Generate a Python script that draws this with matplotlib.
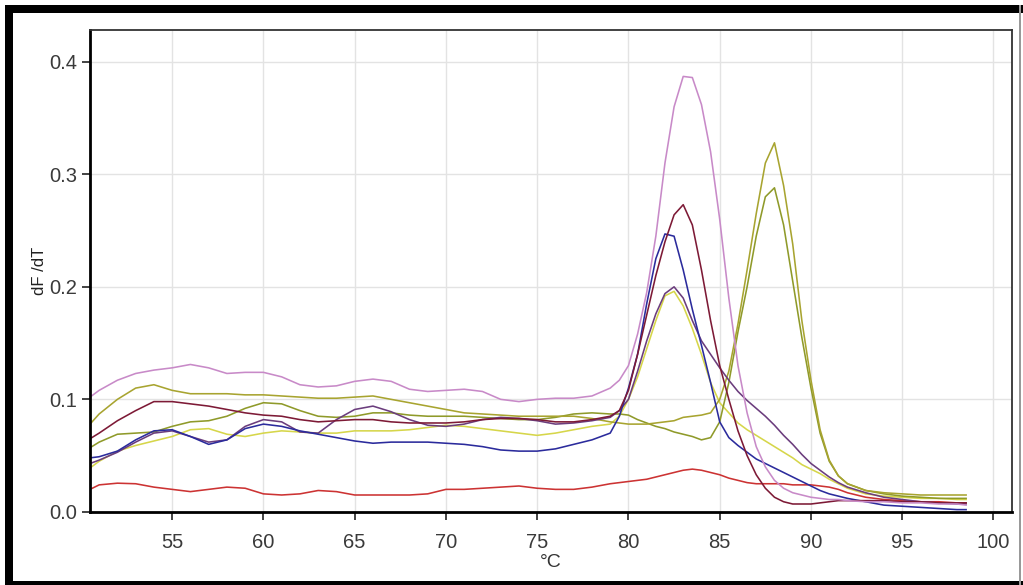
import matplotlib
matplotlib.use("Agg")
import matplotlib.pyplot as plt
from matplotlib.patches import Rectangle

plt.rcParams['font.family'] = ['Liberation Sans', 'DejaVu Sans']

# temperature grid (deg C)
temps = [50.5, 51, 52, 53, 54, 55, 56, 57, 58, 59, 60, 61, 62, 63, 64, 65, 66, 67, 68, 69,
         70, 71, 72, 73, 74, 75, 76, 77, 78, 79,
         79.5, 80, 80.5, 81, 81.5, 82, 82.5, 83, 83.5, 84, 84.5, 85, 85.5, 86, 86.5, 87,
         87.5, 88, 88.5, 89, 89.5, 90, 90.5, 91, 91.5, 92,
         93, 94, 95, 96, 97, 98, 98.5]

pink = [0.102, 0.108, 0.117, 0.123, 0.126, 0.128, 0.131, 0.128, 0.123, 0.124, 0.124, 0.120, 0.113, 0.111, 0.112,
        0.116, 0.118, 0.116, 0.109, 0.107, 0.108, 0.109, 0.107, 0.100, 0.098, 0.100, 0.101, 0.101, 0.103, 0.110,
        0.117, 0.130, 0.158, 0.195, 0.245, 0.310, 0.360, 0.387, 0.386, 0.362, 0.320, 0.260, 0.190, 0.130, 0.088,
        0.058, 0.040, 0.028, 0.021, 0.017, 0.015, 0.013, 0.012, 0.011, 0.011, 0.010,
        0.009, 0.009, 0.008, 0.008, 0.007, 0.007, 0.006]

maroon = [0.065, 0.070, 0.081, 0.090, 0.098, 0.098, 0.096, 0.094, 0.091, 0.088, 0.086, 0.085, 0.082, 0.080, 0.081,
          0.082, 0.082, 0.080, 0.079, 0.079, 0.079, 0.080, 0.082, 0.083, 0.083, 0.082, 0.080, 0.080, 0.082, 0.085,
          0.090, 0.108, 0.140, 0.175, 0.210, 0.240, 0.264, 0.273, 0.255, 0.215, 0.170, 0.130, 0.100, 0.072, 0.050,
          0.033, 0.021, 0.013, 0.009, 0.007, 0.007, 0.007, 0.008, 0.009, 0.010, 0.010,
          0.010, 0.010, 0.009, 0.009, 0.008, 0.008, 0.008]

blue = [0.048, 0.049, 0.054, 0.064, 0.072, 0.073, 0.067, 0.060, 0.064, 0.074, 0.078, 0.076, 0.072, 0.069, 0.066,
        0.063, 0.061, 0.062, 0.062, 0.062, 0.061, 0.060, 0.058, 0.055, 0.054, 0.054, 0.056, 0.060, 0.064, 0.070,
        0.085, 0.110, 0.140, 0.185, 0.225, 0.247, 0.245, 0.215, 0.180, 0.148, 0.115, 0.080, 0.066, 0.059, 0.053,
        0.047, 0.043, 0.039, 0.035, 0.031, 0.027, 0.023, 0.019, 0.016, 0.014, 0.012,
        0.009, 0.006, 0.005, 0.004, 0.003, 0.002, 0.002]

purple = [0.043, 0.046, 0.053, 0.062, 0.070, 0.072, 0.067, 0.062, 0.064, 0.076, 0.082, 0.080, 0.071, 0.070, 0.082,
          0.091, 0.094, 0.089, 0.082, 0.077, 0.076, 0.078, 0.082, 0.084, 0.083, 0.081, 0.078, 0.079, 0.081, 0.084,
          0.090, 0.100, 0.125, 0.152, 0.176, 0.194, 0.200, 0.190, 0.170, 0.152, 0.140, 0.128, 0.117, 0.107, 0.099,
          0.092, 0.085, 0.077, 0.068, 0.060, 0.051, 0.043, 0.037, 0.031, 0.026, 0.022,
          0.017, 0.013, 0.011, 0.009, 0.008, 0.007, 0.007]

yellow = [0.039, 0.045, 0.054, 0.059, 0.063, 0.067, 0.073, 0.074, 0.069, 0.067, 0.070, 0.072, 0.071, 0.070, 0.070,
          0.072, 0.072, 0.072, 0.073, 0.075, 0.077, 0.076, 0.074, 0.072, 0.070, 0.068, 0.070, 0.073, 0.076, 0.078,
          0.085, 0.100, 0.120, 0.145, 0.170, 0.192, 0.196, 0.183, 0.163, 0.140, 0.115, 0.097, 0.088, 0.079, 0.073,
          0.068, 0.063, 0.058, 0.053, 0.048, 0.042, 0.038, 0.034, 0.029, 0.025, 0.021,
          0.016, 0.014, 0.013, 0.012, 0.012, 0.011, 0.011]

olive_a = [0.078, 0.087, 0.100, 0.110, 0.113, 0.108, 0.105, 0.105, 0.105, 0.104, 0.104, 0.103, 0.102, 0.101, 0.101,
           0.102, 0.103, 0.100, 0.097, 0.094, 0.091, 0.088, 0.087, 0.086, 0.085, 0.085, 0.085, 0.085, 0.083, 0.080,
           0.079, 0.078, 0.078, 0.078, 0.079, 0.080, 0.081, 0.084, 0.085, 0.086, 0.088, 0.100, 0.125, 0.167, 0.215,
           0.265, 0.310, 0.328, 0.290, 0.238, 0.170, 0.117, 0.073, 0.046, 0.032, 0.025,
           0.019, 0.017, 0.016, 0.015, 0.015, 0.015, 0.015]

olive_b = [0.057, 0.062, 0.069, 0.070, 0.071, 0.076, 0.080, 0.081, 0.085, 0.092, 0.097, 0.096, 0.090, 0.085, 0.084,
           0.085, 0.088, 0.088, 0.086, 0.085, 0.085, 0.085, 0.084, 0.083, 0.082, 0.082, 0.084, 0.087, 0.088, 0.087,
           0.087, 0.086, 0.082, 0.079, 0.076, 0.074, 0.071, 0.069, 0.067, 0.064, 0.066, 0.080, 0.115, 0.160, 0.200,
           0.245, 0.280, 0.288, 0.255, 0.205, 0.155, 0.110, 0.070, 0.045, 0.032, 0.025,
           0.019, 0.016, 0.014, 0.013, 0.012, 0.012, 0.012]

red = [0.020, 0.024, 0.0255, 0.025, 0.022, 0.020, 0.018, 0.020, 0.022, 0.021, 0.016, 0.015, 0.016, 0.019, 0.018,
       0.015, 0.015, 0.015, 0.015, 0.016, 0.020, 0.020, 0.021, 0.022, 0.023, 0.021, 0.020, 0.020, 0.022, 0.025,
       0.026, 0.027, 0.028, 0.029, 0.031, 0.033, 0.035, 0.037, 0.038, 0.037, 0.035, 0.033, 0.030, 0.028, 0.026,
       0.025, 0.025, 0.025, 0.025, 0.024, 0.024, 0.024, 0.023, 0.022, 0.020, 0.017,
       0.013, 0.011, 0.010, 0.009, 0.009, 0.008, 0.008]

series = [
    (red, "#cc3333"),
    (yellow, "#d6d64a"),
    (olive_b, "#8f9a2a"),
    (olive_a, "#a8a430"),
    (purple, "#6b3d7d"),
    (blue, "#2b2b9c"),
    (maroon, "#7d1a36"),
    (pink, "#c88ac8"),
]

xticks = [55, 60, 65, 70, 75, 80, 85, 90, 95, 100]
yticks = [0.0, 0.1, 0.2, 0.3, 0.4]

fig = plt.figure(figsize=(10.23, 5.85), dpi=100)
ax = fig.add_axes([0.088, 0.125, 0.901, 0.824])

for vals, col in series:
    ax.plot(temps, vals, color=col, lw=1.15)

ax.set_xlim(50.5, 101.0)
ax.set_ylim(0.0, 0.4284)
ax.set_xticks(xticks)
ax.set_yticks(yticks)
ax.set_yticklabels([f"{v:.1f}" for v in yticks])
ax.grid(True, color="#e3e3e3", lw=1.0)
ax.set_axisbelow(True)

ax.tick_params(axis="both", labelsize=14.5, labelcolor="#3a3a3a", color="#222222",
               length=6, width=1.2, direction="out")
ax.tick_params(axis="x", pad=9)
ax.tick_params(axis="y", pad=3)

for side in ["top", "right"]:
    ax.spines[side].set_color("#333333")
    ax.spines[side].set_linewidth(1.3)
for side in ["left", "bottom"]:
    ax.spines[side].set_color("black")
    ax.spines[side].set_linewidth(2.0)

ax.set_ylabel("dF /dT", fontsize=12, color="#222222", labelpad=2)
ax.set_xlabel("°C", fontsize=14, color="#333333", labelpad=2)

# black frame around the picture
fig.add_artist(Rectangle((0.005, 0.9778), 0.995, 0.0137, transform=fig.transFigure,
                         color="black", lw=0))
fig.add_artist(Rectangle((0.005, 0.0), 0.0078, 0.9915, transform=fig.transFigure,
                         color="black", lw=0))
fig.add_artist(Rectangle((0.005, 0.0), 0.995, 0.0065, transform=fig.transFigure,
                         color="black", lw=0))
fig.add_artist(Rectangle((0.9965, 0.0), 0.0015, 0.9915, transform=fig.transFigure,
                         color="#999999", lw=0))

fig.savefig("out.png", dpi=100)
